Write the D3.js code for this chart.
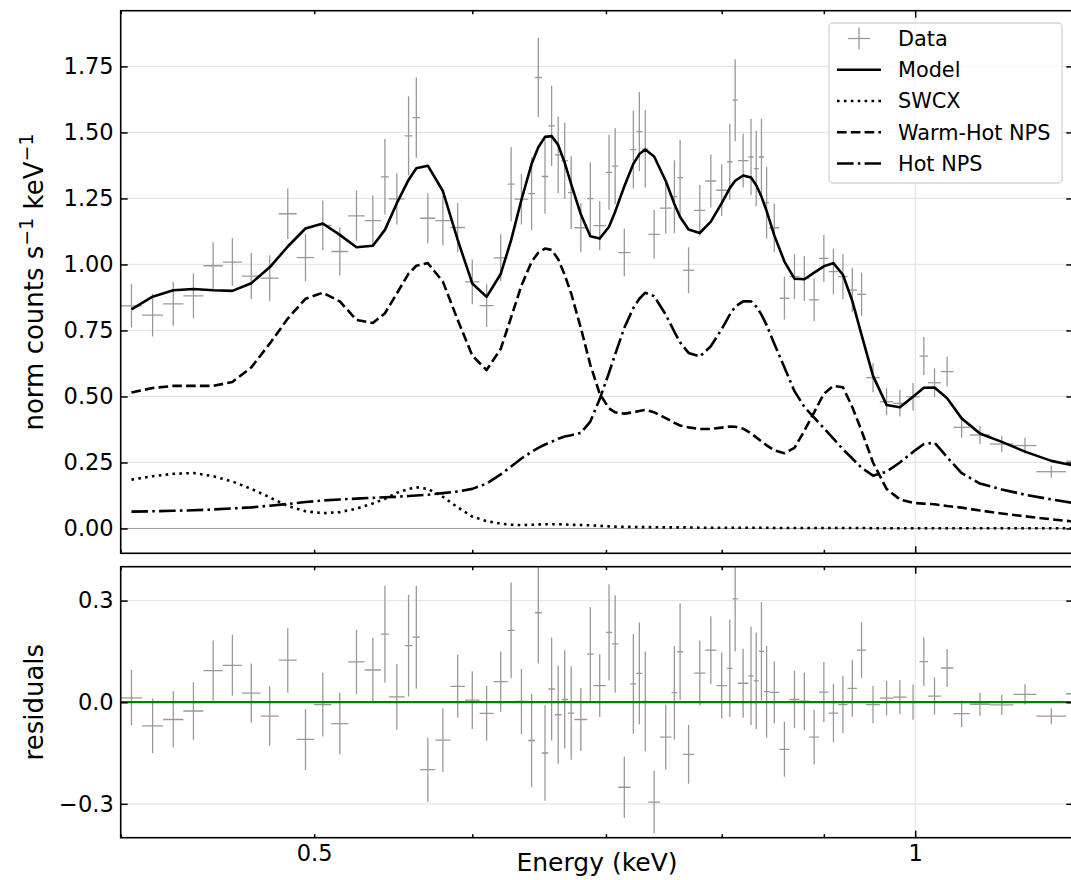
<!DOCTYPE html>
<html>
<head>
<meta charset="utf-8">
<script src="https://cdn.jsdelivr.net/npm/d3@7"></script>
<style>
  body { margin: 0; background: #fff; }
  svg, svg text { font-family: "DejaVu Sans", sans-serif; }
</style>
</head>
<body>
<div id="chart"></div>
<script>
// bin centres and half widths (keV)
const energy = [0.405, 0.415, 0.425, 0.435, 0.445, 0.455, 0.465, 0.475, 0.485, 0.495,
  0.505, 0.515, 0.525, 0.535, 0.5425, 0.550, 0.5575, 0.5625, 0.570, 0.580,
  0.590, 0.600, 0.610, 0.620, 0.6275, 0.635, 0.6425, 0.6475, 0.6525, 0.6575,
  0.6625, 0.6675, 0.6725, 0.680, 0.6875, 0.695, 0.7025, 0.7075, 0.715, 0.7225,
  0.7275, 0.7325, 0.740, 0.750, 0.7575, 0.7625, 0.770, 0.780, 0.790, 0.800,
  0.8075, 0.8125, 0.820, 0.8275, 0.8325, 0.8375, 0.8425, 0.850, 0.860, 0.870,
  0.880, 0.890, 0.900, 0.910, 0.920, 0.930, 0.940, 0.9525, 0.9675, 0.9825,
  0.9975, 1.010, 1.0225, 1.0375, 1.055, 1.0775, 1.105, 1.135, 1.170, 1.215];
const energyErr = [0.005, 0.005, 0.005, 0.005, 0.005, 0.005, 0.005, 0.005, 0.005, 0.005,
  0.005, 0.005, 0.005, 0.005, 0.0025, 0.005, 0.0025, 0.0025, 0.005, 0.005,
  0.005, 0.005, 0.005, 0.005, 0.0025, 0.005, 0.0025, 0.0025, 0.0025, 0.0025,
  0.0025, 0.0025, 0.0025, 0.005, 0.0025, 0.005, 0.0025, 0.0025, 0.005, 0.0025,
  0.0025, 0.0025, 0.005, 0.005, 0.0025, 0.0025, 0.005, 0.005, 0.005, 0.005,
  0.0025, 0.0025, 0.005, 0.0025, 0.0025, 0.0025, 0.0025, 0.005, 0.005, 0.005,
  0.005, 0.005, 0.005, 0.005, 0.005, 0.005, 0.005, 0.0075, 0.0075, 0.0075,
  0.0075, 0.005, 0.0075, 0.0075, 0.01, 0.0125, 0.015, 0.015, 0.02, 0.025];
// measured spectrum (norm counts s^-1 keV^-1) and 1 sigma errors
const counts = [0.843, 0.808, 0.851, 0.881, 0.995, 1.009, 0.956, 0.948, 1.192, 1.026,
  1.148, 1.049, 1.184, 1.166, 1.332, 1.248, 1.487, 1.556, 1.175, 1.166,
  1.140, 0.934, 0.844, 1.025, 1.304, 1.247, 1.268, 1.708, 1.333, 1.525,
  1.415, 1.393, 1.272, 1.139, 1.249, 1.147, 1.349, 1.372, 1.045, 1.435,
  1.503, 1.437, 1.114, 1.213, 1.257, 1.329, 0.978, 1.205, 1.316, 1.281,
  1.389, 1.622, 1.393, 1.407, 1.363, 1.407, 1.234, 1.139, 0.872, 0.954,
  0.947, 0.866, 1.023, 0.973, 0.954, 0.903, 0.887, 0.571, 0.480, 0.474,
  0.499, 0.653, 0.552, 0.594, 0.383, 0.354, 0.320, 0.314, 0.215, 0.255];
const countsErr = [0.082, 0.081, 0.083, 0.085, 0.089, 0.090, 0.087, 0.087, 0.096, 0.090,
  0.094, 0.091, 0.095, 0.095, 0.143, 0.097, 0.150, 0.152, 0.095, 0.094,
  0.093, 0.085, 0.081, 0.089, 0.141, 0.096, 0.138, 0.150, 0.141, 0.152,
  0.145, 0.145, 0.138, 0.093, 0.138, 0.093, 0.142, 0.144, 0.090, 0.147,
  0.150, 0.147, 0.092, 0.096, 0.138, 0.143, 0.087, 0.096, 0.100, 0.098,
  0.144, 0.155, 0.102, 0.145, 0.143, 0.145, 0.136, 0.092, 0.081, 0.085,
  0.085, 0.081, 0.089, 0.086, 0.085, 0.084, 0.082, 0.055, 0.051, 0.050,
  0.052, 0.072, 0.055, 0.056, 0.039, 0.034, 0.030, 0.030, 0.023, 0.022];
// total model and its components
const model = [0.830, 0.878, 0.902, 0.907, 0.902, 0.900, 0.929, 0.989, 1.068, 1.136,
  1.155, 1.112, 1.065, 1.071, 1.131, 1.232, 1.320, 1.364, 1.374, 1.278,
  1.093, 0.928, 0.877, 0.964, 1.092, 1.245, 1.381, 1.444, 1.483, 1.486,
  1.452, 1.385, 1.304, 1.190, 1.107, 1.098, 1.143, 1.200, 1.296, 1.381,
  1.418, 1.435, 1.409, 1.316, 1.229, 1.180, 1.132, 1.119, 1.162, 1.232,
  1.289, 1.317, 1.337, 1.329, 1.300, 1.257, 1.203, 1.110, 1.011, 0.946,
  0.944, 0.969, 0.993, 1.005, 0.961, 0.862, 0.733, 0.578, 0.468, 0.459,
  0.499, 0.533, 0.534, 0.493, 0.417, 0.360, 0.328, 0.291, 0.256, 0.230];
const swcx = [0.185, 0.198, 0.207, 0.210, 0.198, 0.178, 0.150, 0.118, 0.085, 0.065,
  0.058, 0.062, 0.075, 0.095, 0.112, 0.135, 0.150, 0.156, 0.150, 0.120,
  0.080, 0.045, 0.028, 0.018, 0.014, 0.013, 0.014, 0.015, 0.016, 0.016,
  0.016, 0.015, 0.014, 0.013, 0.012, 0.010, 0.008, 0.007, 0.006, 0.006,
  0.005, 0.005, 0.005, 0.004, 0.004, 0.004, 0.004, 0.003, 0.003, 0.003,
  0.003, 0.003, 0.003, 0.003, 0.003, 0.003, 0.003, 0.002, 0.002, 0.002,
  0.002, 0.002, 0.002, 0.002, 0.002, 0.002, 0.002, 0.001, 0.001, 0.001,
  0.001, 0.001, 0.001, 0.001, 0.001, 0.001, 0.001, 0.001, 0.001, 0.001];
const warmHotNps = [0.515, 0.532, 0.540, 0.540, 0.540, 0.555, 0.610, 0.700, 0.795, 0.870,
  0.893, 0.860, 0.790, 0.778, 0.815, 0.890, 0.965, 0.995, 1.005, 0.935,
  0.790, 0.655, 0.600, 0.680, 0.800, 0.920, 1.010, 1.045, 1.060, 1.055,
  1.020, 0.960, 0.890, 0.760, 0.620, 0.510, 0.455, 0.440, 0.435, 0.440,
  0.445, 0.449, 0.440, 0.418, 0.400, 0.390, 0.383, 0.377, 0.377, 0.382,
  0.386, 0.385, 0.378, 0.360, 0.345, 0.330, 0.315, 0.296, 0.285, 0.305,
  0.370, 0.440, 0.510, 0.540, 0.535, 0.460, 0.370, 0.250, 0.150, 0.110,
  0.097, 0.094, 0.092, 0.085, 0.079, 0.068, 0.057, 0.046, 0.035, 0.022];
const hotNps = [0.064, 0.065, 0.067, 0.069, 0.072, 0.076, 0.080, 0.086, 0.093, 0.100,
  0.106, 0.110, 0.113, 0.116, 0.118, 0.120, 0.123, 0.125, 0.128, 0.134,
  0.140, 0.150, 0.170, 0.205, 0.235, 0.265, 0.290, 0.305, 0.318, 0.328,
  0.340, 0.348, 0.353, 0.362, 0.405, 0.490, 0.590, 0.660, 0.760, 0.835,
  0.870, 0.893, 0.880, 0.810, 0.745, 0.705, 0.665, 0.651, 0.690, 0.755,
  0.810, 0.840, 0.860, 0.860, 0.840, 0.810, 0.770, 0.700, 0.610, 0.520,
  0.460, 0.420, 0.380, 0.340, 0.300, 0.265, 0.230, 0.200, 0.215, 0.250,
  0.290, 0.320, 0.325, 0.270, 0.210, 0.170, 0.148, 0.128, 0.110, 0.090];
// data minus model
const residuals = [0.013, -0.070, -0.051, -0.026, 0.093, 0.109, 0.027, -0.041, 0.124, -0.110,
  -0.007, -0.063, 0.119, 0.095, 0.201, 0.016, 0.167, 0.192, -0.199, -0.112,
  0.047, 0.006, -0.033, 0.061, 0.212, 0.002, -0.113, 0.264, -0.150, 0.039,
  -0.037, 0.008, -0.032, -0.051, 0.142, 0.049, 0.206, 0.172, -0.251, 0.054,
  0.085, 0.002, -0.295, -0.103, 0.028, 0.149, -0.154, 0.086, 0.154, 0.049,
  0.100, 0.305, 0.056, 0.078, 0.063, 0.150, 0.031, 0.029, -0.139, 0.008,
  0.003, -0.103, 0.030, -0.032, -0.007, 0.041, 0.154, -0.007, 0.012, 0.015,
  0.000, 0.120, 0.018, 0.101, -0.034, -0.006, -0.008, 0.023, -0.041, 0.025];

const countTicks = [0, 0.25, 0.5, 0.75, 1.0, 1.25, 1.5, 1.75];
const residTicks = [-0.3, 0.0, 0.3];
const energyMajor = [1];
const energyMinor = [0.4, 0.5, 0.6, 0.7, 0.8, 0.9];
const energyLabelled = [0.5, 1];
const legendLabels = ["Data", "Model", "SWCX", "Warm-Hot NPS", "Hot NPS"];

const W = 1071, H = 880;
const left = 120.7, right = 1073.3;
const topPanel = { top: 10.7, bottom: 553.3 };
const botPanel = { top: 566.7, bottom: 837.7 };

const svg = d3.select("#chart").append("svg")
  .attr("width", W).attr("height", H);
svg.append("rect").attr("width", W).attr("height", H).attr("fill", "#fff");

const x = d3.scaleLog().domain([0.4, 1.2]).range([left, right]);
const y = d3.scaleLinear().domain([-0.094, 1.961]).range([topPanel.bottom, topPanel.top]);
const yr = d3.scaleLinear().domain([-0.4, 0.4]).range([botPanel.bottom, botPanel.top]);

const pts = energy.map((e, i) => ({
  e: e, de: energyErr[i], c: counts[i], ce: countsErr[i], m: model[i],
  s: swcx[i], w: warmHotNps[i], h: hotNps[i], r: residuals[i]
}));

const defs = svg.append("defs");
defs.append("clipPath").attr("id", "clipTop").append("rect")
  .attr("x", left).attr("y", topPanel.top)
  .attr("width", right - left).attr("height", topPanel.bottom - topPanel.top);
defs.append("clipPath").attr("id", "clipBot").append("rect")
  .attr("x", left).attr("y", botPanel.top)
  .attr("width", right - left).attr("height", botPanel.bottom - botPanel.top);

const gridColor = "#e6e6e6";
const errColor = "#999999";

function drawGrid(g, yScale, ticks) {
  g.selectAll(".hgrid").data(ticks).enter().append("line")
    .attr("x1", left).attr("x2", right)
    .attr("y1", d => yScale(d)).attr("y2", d => yScale(d))
    .attr("stroke", gridColor).attr("stroke-width", 1.3);
  g.selectAll(".vgrid").data(energyMajor).enter().append("line")
    .attr("x1", d => x(d)).attr("x2", d => x(d))
    .attr("y1", yScale.range()[0]).attr("y2", yScale.range()[1])
    .attr("stroke", gridColor).attr("stroke-width", 1.3);
}

function drawErrors(g, yScale, key) {
  const eb = g.selectAll(".eb").data(pts).enter().append("g");
  eb.append("line")
    .attr("x1", d => x(d.e - d.de)).attr("x2", d => x(d.e + d.de))
    .attr("y1", d => yScale(d[key])).attr("y2", d => yScale(d[key]))
    .attr("stroke", errColor).attr("stroke-width", 1.3);
  eb.append("line")
    .attr("x1", d => x(d.e)).attr("x2", d => x(d.e))
    .attr("y1", d => yScale(d[key] - d.ce)).attr("y2", d => yScale(d[key] + d.ce))
    .attr("stroke", errColor).attr("stroke-width", 1.3);
}

// ---------- top panel ----------
const gTop = svg.append("g");
drawGrid(gTop, y, countTicks);
const plotTop = gTop.append("g").attr("clip-path", "url(#clipTop)");
plotTop.append("line")
  .attr("x1", left).attr("x2", right).attr("y1", y(0)).attr("y2", y(0))
  .attr("stroke", "#a0a0a0").attr("stroke-width", 1.2);
drawErrors(plotTop, y, "c");

const lineOf = key => d3.line().x(d => x(d.e)).y(d => y(d[key]));
const lw = 2.6;
const comps = [
  { key: "m", dash: null },
  { key: "s", dash: [2.6, 4.3] },
  { key: "w", dash: [9.6, 4.2] },
  { key: "h", dash: [16.6, 4.2, 2.6, 4.2] }
];
comps.forEach(c => {
  plotTop.append("path").datum(pts)
    .attr("fill", "none").attr("stroke", "#000").attr("stroke-width", lw)
    .attr("stroke-dasharray", c.dash ? c.dash.join(",") : null)
    .attr("stroke-linejoin", "round")
    .attr("d", lineOf(c.key));
});

// ---------- bottom panel ----------
const gBot = svg.append("g");
drawGrid(gBot, yr, residTicks);
const plotBot = gBot.append("g").attr("clip-path", "url(#clipBot)");
drawErrors(plotBot, yr, "r");
plotBot.append("line")
  .attr("x1", left).attr("x2", right).attr("y1", yr(0)).attr("y2", yr(0))
  .attr("stroke", "#008000").attr("stroke-width", 2.2);

// ---------- axes ----------
const fs = 22.5;
function styleAxis(g) {
  g.attr("font-family", "DejaVu Sans").attr("font-size", fs);
  g.select(".domain").remove();
  g.selectAll("line").attr("stroke", "#000").attr("stroke-width", 1.5);
  g.selectAll("text").attr("fill", "#000");
}
function panelAxes(yScale, ticks, fmt, panel, showX) {
  svg.append("g").attr("transform", "translate(" + left + ",0)")
    .call(d3.axisLeft(yScale).tickValues(ticks).tickSize(-7).tickPadding(7).tickFormat(fmt))
    .call(styleAxis);
  svg.append("g").attr("transform", "translate(" + right + ",0)")
    .call(d3.axisRight(yScale).tickValues(ticks).tickSize(-7).tickFormat(""))
    .call(styleAxis);
  [[panel.top, d3.axisTop], [panel.bottom, d3.axisBottom]].forEach(([yy, ax]) => {
    svg.append("g").attr("transform", "translate(0," + yy + ")")
      .call(ax(x).tickValues(energyMinor).tickSize(-3.5).tickFormat(""))
      .call(styleAxis);
    svg.append("g").attr("transform", "translate(0," + yy + ")")
      .call(ax(x).tickValues(energyMajor).tickSize(-7).tickFormat(""))
      .call(styleAxis);
  });
  if (showX) {
    svg.append("g").attr("transform", "translate(0," + panel.bottom + ")")
      .call(d3.axisBottom(x).tickValues(energyLabelled).tickSize(0).tickPadding(7)
        .tickFormat(d3.format("~g")))
      .call(styleAxis);
  }
  svg.append("rect")
    .attr("x", left).attr("y", panel.top)
    .attr("width", right - left).attr("height", panel.bottom - panel.top)
    .attr("fill", "none").attr("stroke", "#000").attr("stroke-width", 1.6);
}
panelAxes(y, countTicks, d3.format(".2f"), topPanel, false);
panelAxes(yr, residTicks, d3.format(".1f"), botPanel, true);

// axis labels
const labelFs = 26;
const ylab = svg.append("text")
  .attr("transform", "translate(43," + (topPanel.top + topPanel.bottom) / 2 + ") rotate(-90)")
  .attr("text-anchor", "middle").style("font-size", labelFs + "px");
ylab.append("tspan").text("norm counts s");
ylab.append("tspan").attr("dy", -10).style("font-size", "19px").text("\u22121");
ylab.append("tspan").attr("dy", 10).text(" keV");
ylab.append("tspan").attr("dy", -10).style("font-size", "19px").text("\u22121");

svg.append("text")
  .attr("transform", "translate(43," + (botPanel.top + botPanel.bottom) / 2 + ") rotate(-90)")
  .attr("text-anchor", "middle").style("font-size", labelFs + "px").text("residuals");

svg.append("text")
  .attr("x", (left + right) / 2).attr("y", 871)
  .attr("text-anchor", "middle").style("font-size", "25px").text("Energy (keV)");

// ---------- legend ----------
const lg = svg.append("g");
lg.append("rect")
  .attr("x", 829).attr("y", 23).attr("width", 233).attr("height", 160).attr("rx", 4)
  .attr("fill", "#fff").attr("fill-opacity", 0.8)
  .attr("stroke", "#d4d4d4").attr("stroke-width", 1.3);
const rowY = d3.scalePoint().domain(legendLabels).range([38.5, 163.5]);
legendLabels.forEach((name, i) => {
  const yy = rowY(name);
  if (i === 0) {
    lg.append("line").attr("x1", 848).attr("x2", 870).attr("y1", yy).attr("y2", yy)
      .attr("stroke", errColor).attr("stroke-width", 1.3);
    lg.append("line").attr("x1", 859).attr("x2", 859).attr("y1", yy - 11).attr("y2", yy + 11)
      .attr("stroke", errColor).attr("stroke-width", 1.3);
  } else {
    const c = comps[i - 1];
    lg.append("line").attr("x1", 837).attr("x2", 881).attr("y1", yy).attr("y2", yy)
      .attr("stroke", "#000").attr("stroke-width", lw)
      .attr("stroke-dasharray", c.dash ? c.dash.join(",") : null);
  }
  lg.append("text").attr("x", 898).attr("y", yy).attr("dy", "0.36em")
    .style("font-size", "20.8px").text(name);
});
</script>
</body>
</html>
